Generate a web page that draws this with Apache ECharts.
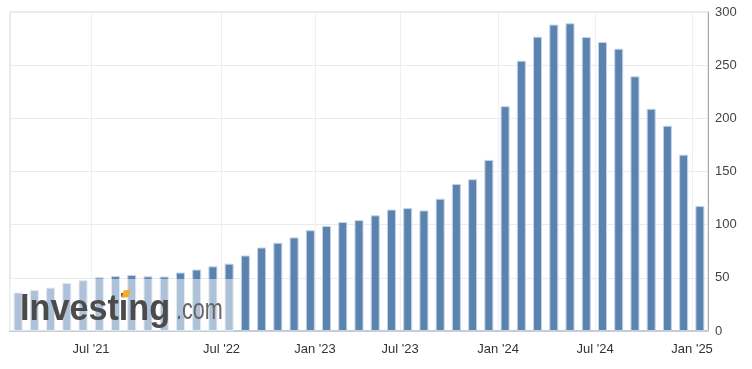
<!DOCTYPE html>
<html>
<head>
<meta charset="utf-8">
<script src="https://cdn.jsdelivr.net/npm/echarts@6/dist/echarts.min.js"></script>
<style>
html,body{margin:0;padding:0;background:#fff;}
#chart{width:752px;height:369px;}
</style>
</head>
<body>
<div id="chart"></div>
<script>
// Bar values (one per release, ordinal x-axis)
var values = [36.2, 38.6, 40.8, 45.3, 47.8, 50.4, 51.6, 52.6, 51.4, 51.2,
              55.0, 57.8, 60.8, 63.3, 71.0, 78.5, 83.0, 88.0, 94.8, 98.8,
              102.5, 104.3, 108.8, 114.2, 115.6, 113.4, 124.4, 138.3, 142.7, 160.9,
              211.4, 254.2, 276.8, 288.2, 289.4, 276.4, 271.8, 265.5, 239.5, 209.0,
              193.0, 165.8, 117.5];
// Date tick labels and where they fall on the ordinal axis (in bar-index units)
var tickLabels = ["Jul '21", "Jul '22", "Jan '23", "Jul '23", "Jan '24", "Jul '24", "Jan '25"];
var tickPositions = [4.49, 12.53, 18.29, 23.53, 29.57, 35.54, 41.52];
var yTicks = [0, 50, 100, 150, 200, 250, 300];

var chart = echarts.init(document.getElementById('chart'), null, {renderer: 'canvas'});
var FONT = 'Arial, "Liberation Sans", sans-serif';

var option = {
  animation: false,
  backgroundColor: '#ffffff',
  grid: {left: 10, right: 44, top: 12, bottom: 38, show: true, borderColor: '#d6d6d6', borderWidth: 1, backgroundColor: 'transparent'},
  xAxis: {
    type: 'value',
    min: -0.5,
    max: values.length - 0.5,
    axisLine: {show: true, onZero: false, lineStyle: {color: '#c3ccd7', width: 2}},
    axisTick: {show: false, customValues: tickPositions},
    splitLine: {show: true, lineStyle: {color: '#efefef', width: 1}},
    axisLabel: {
      customValues: tickPositions,
      color: '#333333', fontSize: 13, fontFamily: FONT, margin: 12,
      formatter: function (v) {
        var best = 0, d = 1e9;
        for (var i = 0; i < tickPositions.length; i++) {
          var dd = Math.abs(tickPositions[i] - v);
          if (dd < d) { d = dd; best = i; }
        }
        return tickLabels[best];
      }
    }
  },
  yAxis: {
    type: 'value',
    position: 'right',
    min: yTicks[0],
    max: yTicks[yTicks.length - 1],
    interval: 50,
    axisLine: {show: true, onZero: false, lineStyle: {color: '#a8a8a8', width: 1}},
    axisTick: {show: false},
    splitLine: {show: true, lineStyle: {color: '#ebebeb', width: 1}},
    axisLabel: {color: '#444444', fontSize: 13, fontFamily: FONT, margin: 7}
  },
  series: [{
    type: 'bar',
    barWidth: 9,
    data: values.map(function (v, i) { return [i, v]; }),
    itemStyle: {color: '#5b83b0', borderColor: '#c6d3e3', borderWidth: 1},
    z: 2
  }],
  graphic: [
    {type: 'rect', z: 100, shape: {x: 10, y: 279, width: 224, height: 52}, style: {fill: 'rgba(255,255,255,0.5)'}, silent: true},
    {type: 'text', z: 101, x: 20, y: 310, scaleX: 0.95, silent: true,
     style: {text: 'Investing', x: 0, y: 0, font: 'bold 36px Arial, "Liberation Sans", sans-serif', fill: '#4b4b4b', verticalAlign: 'middle', align: 'left'}},
    {type: 'text', z: 101, x: 176, y: 311, scaleX: 0.72, silent: true,
     style: {text: '.com', x: 0, y: 0, font: '30px Arial, "Liberation Sans", sans-serif', fill: '#666666', verticalAlign: 'middle', align: 'left'}},
    {type: 'polygon', z: 102, silent: true,
     shape: {points: [[121.5, 298], [123.5, 290.5], [130.5, 289.5], [128.5, 297]]}, style: {fill: '#f6ab2a'}}
  ]
};
chart.setOption(option);
</script>
</body>
</html>
